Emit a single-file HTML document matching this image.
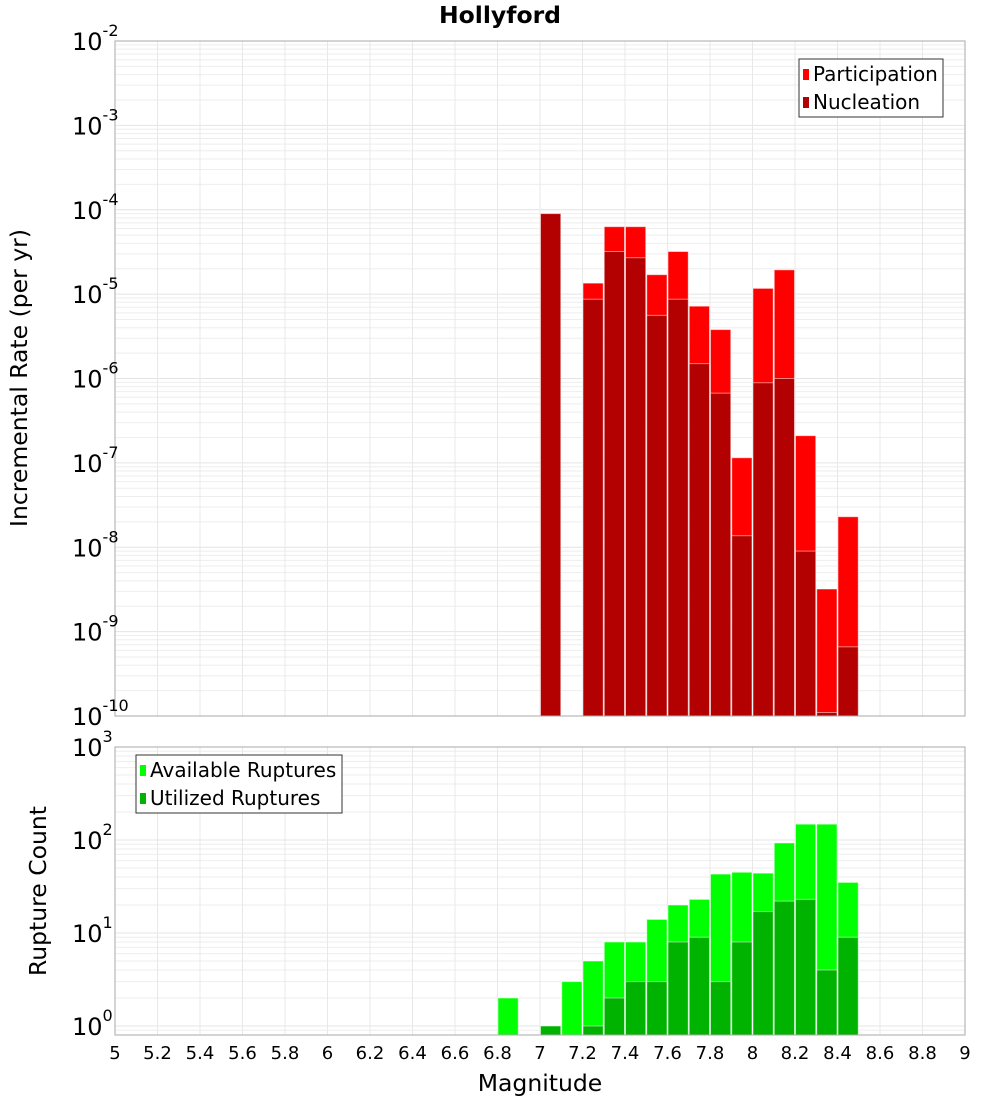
<!DOCTYPE html>
<html><head><meta charset="utf-8"><style>
body{margin:0;background:#fff}
svg{display:block;font-family:"DejaVu Sans","Liberation Sans",sans-serif}
</style></head><body>
<svg id="chart" width="1000" height="1100" xmlns="http://www.w3.org/2000/svg"></svg>
<script>
const mags = [6.85,6.95,7.05,7.15,7.25,7.35,7.45,7.55,7.65,7.75,7.85,7.95,8.05,8.15,8.25,8.35,8.45];
const participation = [0,0,9e-5,0,1.35e-5,6.3e-5,6.3e-5,1.7e-5,3.2e-5,7.2e-6,3.8e-6,1.15e-7,1.17e-5,1.94e-5,2.1e-7,3.2e-9,2.3e-8];
const nucleation = [0,0,9e-5,0,8.7e-6,3.2e-5,2.7e-5,5.6e-6,8.7e-6,1.5e-6,6.7e-7,1.37e-8,8.9e-7,1e-6,9e-9,1.1e-10,6.6e-10];
const available = [2,0,1,3,5,8,8,14,20,23,43,45,44,93,148,148,35];
const utilized = [0,0,1,0,1,2,3,3,8,9,3,8,17,22,23,4,9];
const xTicks = [5,5.2,5.4,5.6,5.8,6,6.2,6.4,6.6,6.8,7,7.2,7.4,7.6,7.8,8,8.2,8.4,8.6,8.8,9];
const topExps = [-2,-3,-4,-5,-6,-7,-8,-9,-10];
const botExps = [3,2,1,0];

const NS="http://www.w3.org/2000/svg";
const svg=document.getElementById('chart');
function el(tag,attrs,parent){const e=document.createElementNS(NS,tag);for(const k in attrs)e.setAttribute(k,attrs[k]);(parent||svg).appendChild(e);return e;}
const L=115,R=965;
const xs=m=>L+(m-5)*(R-L)/4;
const T1=41,B1=716; const yTop=v=>T1+(-2-Math.log10(v))*(B1-T1)/8;
const T2=747,B2=1035,dec2=93; const yBot=v=>T2+(3-Math.log10(v))*dec2;

function grid(T,B,yf,eLo,eHi){
  const g=el('g',{});
  
  
  for(let e=eLo;e<eHi;e++)for(let k=1;k<10;k++){const y=yf(k*Math.pow(10,e));if(y<T||y>B)continue;
    el('line',{x1:L,x2:R,y1:y,y2:y,stroke:k==1?'#e4e4e4':'#eeeeee','stroke-width':1},g);}
  xTicks.forEach(t=>{const x=xs(t);el('line',{x1:x,x2:x,y1:T,y2:B,stroke:'#e8e8e8','stroke-width':1},g);});
}
grid(T1,B1,yTop,-10,-2);
grid(T2,B2,yBot,-1,3);

const title=el('text',{x:500,y:23,'text-anchor':'middle','font-size':23.5,'font-weight':'bold'});title.textContent='Hollyford';


const bw=(R-L)/40;
function bars(vals,yf,B,color,name){
  const g=el('g',{});
  
  
  vals.forEach((v,i)=>{if(v<=0)return;const x=xs(mags[i])-bw/2;const y=Math.max(yf(v),0);
    const r=el('rect',{x:x+0.5,y:y,width:bw-1,height:Math.max(B-y,0),fill:color,stroke:'#ffffff','stroke-opacity':0.5,'stroke-width':1},g);
    
    });
}
bars(participation,yTop,B1,'#ff0000','participation-series');
bars(nucleation,yTop,B1,'#b30000','nucleation-series');
bars(available,yBot,B2,'#00ff00','available-series');
bars(utilized,yBot,B2,'#00b300','utilized-series');

el('rect',{x:L,y:T1,width:R-L,height:B1-T1,fill:'none',stroke:'#aaaaaa','stroke-width':1});
el('rect',{x:L,y:T2,width:R-L,height:B2-T2,fill:'none',stroke:'#aaaaaa','stroke-width':1});

function ylab(exp,y,name){const t=el('text',{x:72,y:y+9,'font-size':24});t.textContent='10';
  
  const s=el('tspan',{dy:-14,'font-size':16},t);s.textContent=String(exp);}
topExps.forEach(e=>ylab(e,yTop(Math.pow(10,e)),'y-tick-label'));
botExps.forEach(e=>ylab(e,yBot(Math.pow(10,e)),'y-tick-label-bottom'));

xTicks.forEach(t=>{const tx=el('text',{x:xs(t),y:1059,'text-anchor':'middle','font-size':18});tx.textContent=String(t);
  });

const xl=el('text',{x:540,y:1091,'text-anchor':'middle','font-size':23.5});xl.textContent='Magnitude';

const yl=el('text',{x:0,y:0,'text-anchor':'middle','font-size':23.5,transform:'translate(27,378) rotate(-90)'});yl.textContent='Incremental Rate (per yr)';

const yl2=el('text',{x:0,y:0,'text-anchor':'middle','font-size':23.5,transform:'translate(46,891) rotate(-90)'});yl2.textContent='Rupture Count';


function legend(x,y,w,items,name){
  const g=el('g',{});
  
  
  el('rect',{x:x,y:y,width:w,height:58,fill:'#fff',stroke:'#333','stroke-width':1},g);
  items.forEach((it,i)=>{const cy=y+15+i*28;
    el('rect',{x:x+4,y:cy-5,width:6,height:11,fill:it[1]},g);
    const t=el('text',{x:x+14,y:cy+7,'font-size':20},g);t.textContent=it[0];
    });
}
legend(799,59,144,[['Participation','#ff0000'],['Nucleation','#b30000']],'legend-top');
legend(136,755,206,[['Available Ruptures','#00ff00'],['Utilized Ruptures','#00b300']],'legend-bottom');
</script>
</body></html>
